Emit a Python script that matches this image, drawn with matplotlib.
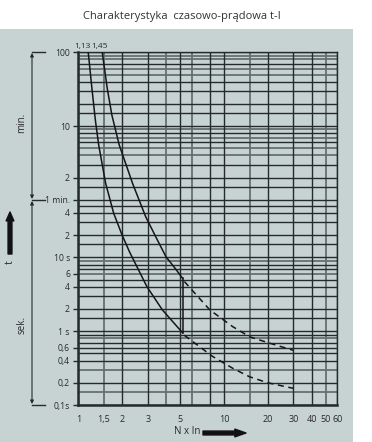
import matplotlib
matplotlib.use('Agg')
import matplotlib.pyplot as plt
from matplotlib.patches import Rectangle
from matplotlib.lines import Line2D
from matplotlib.ticker import NullLocator

plt.rcParams['font.family'] = ['Open Sans', 'DejaVu Sans']

# ---------------- data ----------------
# characteristic curves (x = N x In, t in seconds)
curve_113_x = [1.17, 1.24, 1.31, 1.38, 1.54, 1.75, 2.0, 2.25, 2.96, 3.78, 5.2]
curve_113_t = [6000, 1950, 720, 333, 101, 39.5, 20, 11.8, 4.0, 1.94, 0.95]
curve_145_x = [1.46, 1.58, 1.70, 1.91, 2.36, 2.90, 3.49, 4.0, 4.70, 5.2]
curve_145_t = [6000, 1950, 847, 333, 100, 35.6, 17.2, 10.2, 6.8, 5.2]
dash_upper_x = [5.35, 8.0, 11.5, 15, 20, 30]
dash_upper_t = [4.7, 1.94, 1.15, 0.84, 0.70, 0.55]
dash_lower_x = [5.35, 8.28, 11.5, 15, 20, 30]
dash_lower_t = [0.88, 0.46, 0.314, 0.241, 0.20, 0.168]
step_x = [5.2, 5.2]
step_t = [0.95, 5.2]

y_tick_values = [6000, 600, 120, 60, 40, 20, 10, 6, 4, 2, 1, 0.6, 0.4, 0.2, 0.1]
y_tick_labels = ['100', '10', '2', '1 min.', '4', '2', '10 s', '6', '4', '2',
                 '1 s', '0,6', '0,4', '0,2', '0,1s']
x_tick_values = [1, 1.5, 2, 3, 5, 10, 20, 30, 40, 50, 60]
x_tick_labels = ['1', '1,5', '2', '3', '5', '10', '20', '30', '40', '50', '60']

minute_grid = [100, 90, 80, 70, 60, 50, 40, 30, 20, 15, 10, 9, 8, 7, 6, 5, 4, 3, 2, 1.5, 1]
second_grid = [50, 40, 30, 20, 15, 10, 9, 8, 7, 6, 5, 4, 3, 2, 1.5, 1,
               0.9, 0.8, 0.7, 0.6, 0.5, 0.4, 0.3, 0.2, 0.15, 0.1]
minute_grid_light = [90, 80, 60, 50, 9, 7, 5, 4]
second_grid_light = [9, 6, 0.8, 0.3, 0.15]
x_grid = [1, 1.5, 2, 3, 4, 5, 6, 8, 10, 15, 20, 30, 40, 50, 60]
x_grid_light = [1.5, 4, 6, 15, 50]

# ---------------- style ----------------
W, H = 372, 442
bg = '#c7d2d2'
dark = '#252b2c'
light = '#66706f'
txt = '#2a2a2a'

fig = plt.figure(figsize=(W / 100, H / 100), dpi=100)
fig.patch.set_facecolor('white')
fig.add_artist(Rectangle((0, 0), 353 / W, 1 - 29 / H, transform=fig.transFigure,
                         facecolor=bg, edgecolor='none', zorder=0))

ax = fig.add_axes([78.3 / W, 1 - 405 / H, (337.3 - 78.3) / W, (405 - 52.3) / H])
ax.set_facecolor(bg)
ax.set_xscale('log')
ax.set_yscale('log')
ax.set_xlim(1, 60)
ax.set_ylim(0.1, 6000)
ax.xaxis.set_minor_locator(NullLocator())
ax.yaxis.set_minor_locator(NullLocator())

for v in x_grid:
    if v in x_grid_light:
        ax.axvline(v, color=light, lw=1.3, zorder=1)
    else:
        ax.axvline(v, color=dark, lw=1.0, zorder=1.5)
for m in minute_grid:
    if m in minute_grid_light:
        ax.axhline(m * 60, color=light, lw=1.3, zorder=1)
    else:
        ax.axhline(m * 60, color=dark, lw=1.0, zorder=1.5)
for s in second_grid:
    if s in second_grid_light:
        ax.axhline(s, color=light, lw=1.3, zorder=1)
    else:
        ax.axhline(s, color=dark, lw=1.0, zorder=1.5)

for side in ['top', 'right']:
    ax.spines[side].set_color(dark)
    ax.spines[side].set_linewidth(1.0)
for side in ['left', 'bottom']:
    ax.spines[side].set_color(dark)
    ax.spines[side].set_linewidth(1.8)

ax.set_xticks(x_tick_values, x_tick_labels)
ax.set_yticks(y_tick_values, y_tick_labels)
ax.tick_params(axis='x', length=0, pad=7, labelsize=6.5, labelcolor=txt)
ax.tick_params(axis='y', length=3.5, width=1.0, color=dark, pad=2.5, labelsize=6.2,
               labelcolor=txt)

# curves
lc = '#161616'
ax.plot(curve_113_x, curve_113_t, color=lc, lw=1.1, zorder=3)
ax.plot(curve_145_x, curve_145_t, color=lc, lw=1.1, zorder=3)
ax.plot(step_x, step_t, color=lc, lw=1.1, zorder=3)
ax.plot(dash_upper_x, dash_upper_t, color=lc, lw=1.1, ls=(0, (4, 3)), zorder=3)
ax.plot(dash_lower_x, dash_lower_t, color=lc, lw=1.1, ls=(0, (4, 3)), zorder=3)

ax.annotate('1,13', xy=(curve_113_x[0], 6000), xytext=(1.5, 1.5), textcoords='offset points',
            ha='right', va='bottom', fontsize=6, color=txt, annotation_clip=False)
ax.annotate('1,45', xy=(curve_145_x[0], 6000), xytext=(-8, 1.5), textcoords='offset points',
            ha='left', va='bottom', fontsize=6, color=txt, annotation_clip=False)


def P(x, y):
    return (x, H - y)


def fline(x0, y0, x1, y1, lw=1.0):
    fig.add_artist(Line2D([x0 / W, x1 / W], [1 - y0 / H, 1 - y1 / H],
                          transform=fig.transFigure, color=dark, lw=lw))


# left bracket annotations
fline(32, 52.3, 45, 52.3)
fline(32, 200, 45, 200)
fline(32, 405, 45, 405)
ax.annotate('', xy=P(32, 53), xytext=P(32, 199), xycoords='figure pixels',
            textcoords='figure pixels',
            arrowprops=dict(arrowstyle='<|-|>', color=dark, lw=0.8,
                            mutation_scale=5, shrinkA=0, shrinkB=0))
ax.annotate('', xy=P(32, 404), xytext=P(32, 201), xycoords='figure pixels',
            textcoords='figure pixels',
            arrowprops=dict(arrowstyle='<|-|>', color=dark, lw=0.8,
                            mutation_scale=5, shrinkA=0, shrinkB=0))
fig.text(22 / W, 1 - 123 / H, 'min.', rotation=90, ha='center', va='center',
         fontsize=7, color=txt)
fig.text(22 / W, 1 - 325 / H, 'sek.', rotation=90, ha='center', va='center',
         fontsize=7, color=txt)

# thick t arrow
ax.annotate('', xy=P(10, 212), xytext=P(10, 254), xycoords='figure pixels',
            textcoords='figure pixels',
            arrowprops=dict(arrowstyle='simple,head_length=0.8,head_width=0.7,tail_width=0.35',
                            color='#111111', mutation_scale=8, shrinkA=0, shrinkB=0))
fig.text(10 / W, 1 - 262 / H, 't', rotation=90, ha='center', va='center',
         fontsize=7.5, color=txt)

# x label with thick arrow
fig.text(187 / W, 1 - 432 / H, 'N x In', ha='center', va='center', fontsize=7, color=txt)
ax.annotate('', xy=P(246, 433), xytext=P(203, 433), xycoords='figure pixels',
            textcoords='figure pixels',
            arrowprops=dict(arrowstyle='simple,head_length=1.0,head_width=0.7,tail_width=0.35',
                            color='#111111', mutation_scale=8, shrinkA=0, shrinkB=0))

fig.text(182 / W, 1 - 16 / H, 'Charakterystyka  czasowo-prądowa t-I', ha='center',
         va='center', fontsize=8, color='#333333')

fig.savefig('out.png', dpi=100, facecolor=fig.get_facecolor())
